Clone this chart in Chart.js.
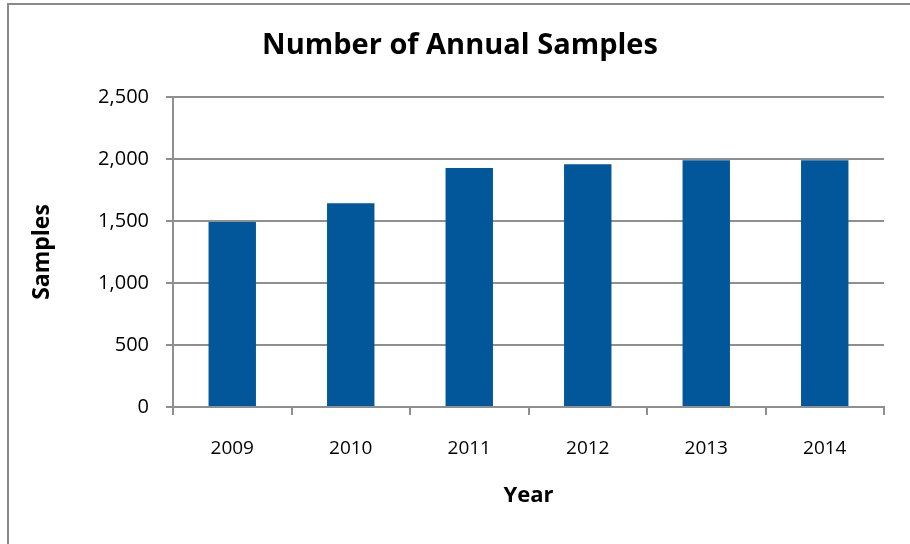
<!DOCTYPE html>
<html>
	<head>
		<title>Number of Annual Samples</title>
		<meta charset="UTF-8">
		<script src="https://cdn.jsdelivr.net/npm/chart.js@4/dist/chart.umd.min.js"></script>
		<style>
			body { margin: 0; background: #fff; }
			#wrap { width: 910px; height: 544px; }
		</style>
	</head>
	<body>
		<div id="wrap"><canvas id="chart" width="910" height="544"></canvas></div>

		<script>
			// data
			const years = ["2009", "2010", "2011", "2012", "2013", "2014"]
			const samples = [1492, 1643, 1928, 1958, 1990, 1990]
			const yTicks = [0, 500, 1000, 1500, 2000, 2500]
			const chartTitle = "Number of Annual Samples"

			const gridColor = "#8f8f8f"
			const fontName = "'Open Sans', 'Noto Sans', sans-serif"

			// grey frame round the chart (only top and left are in view) + title
			const frame = {
				id: "frame",
				beforeDraw(chart) {
					const c = chart.ctx
					c.save()
					c.strokeStyle = "#8a8a8a"
					c.lineWidth = 2
					c.beginPath()
					c.moveTo(8, 544)
					c.lineTo(8, 4)
					c.lineTo(910, 4)
					c.stroke()
					c.fillStyle = "#000"
					c.font = "bold 29px " + fontName
					c.textAlign = "center"
					c.textBaseline = "middle"
					c.fillText(chartTitle, 460, 46)
					c.restore()
				}
			}

			let ctx = document.getElementById("chart").getContext("2d")
			let samplesChart = new Chart(ctx, {
				type: "bar",
				data: {
					labels: years,
					datasets: [{
						label: "Samples",
						data: samples,
						backgroundColor: "#02569a",
						barPercentage: 0.4,
						categoryPercentage: 1.0
					}]
				},
				options: {
					responsive: false,
					animation: false,
					layout: { padding: { left: 0, right: 26, top: 97, bottom: 0 } },
					plugins: {
						legend: { display: false },
						tooltip: { enabled: false },
						title: { display: false }
					},
					scales: {
						x: {
							afterFit(scale) {
								scale.height = 137
							},
							grid: {
								offset: true,
								drawOnChartArea: false,
								drawTicks: true,
								tickLength: 8,
								color: gridColor,
								lineWidth: 2
							},
							border: { color: gridColor, width: 2 },
							ticks: {
								color: "#000",
								padding: 22,
								font: { family: fontName, size: 19 }
							},
							title: {
								display: true,
								text: "Year",
								color: "#000",
								font: { family: fontName, size: 22, weight: "bold" },
								padding: { top: 0, bottom: 35 }
							}
						},
						y: {
							min: 0,
							max: 2500,
							afterBuildTicks(scale) {
								scale.ticks = yTicks.map(v => ({ value: v }))
							},
							afterFit(scale) {
								scale.width = 173
							},
							grid: {
								tickLength: 7,
								color: gridColor,
								lineWidth: 2
							},
							border: { color: gridColor, width: 2 },
							ticks: {
								color: "#000",
								padding: 17,
								font: { family: fontName, size: 20 },
								callback: v => v.toLocaleString("en-US")
							},
							title: {
								display: true,
								text: "Samples",
								color: "#000",
								font: { family: fontName, size: 23, weight: "bold" },
								padding: { top: 29, bottom: 0 }
							}
						}
					}
				},
				plugins: [frame]
			})
		</script>
	</body>
</html>
